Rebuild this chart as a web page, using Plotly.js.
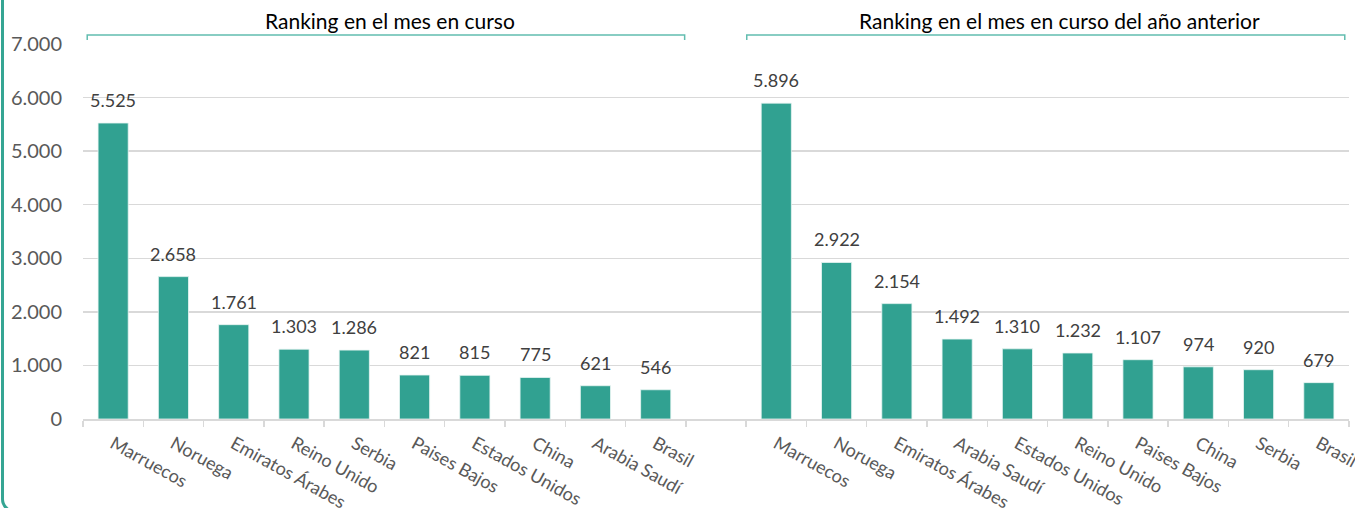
<!DOCTYPE html>
<html>
<head>
<meta charset="utf-8">
<script src="https://cdn.plot.ly/plotly-3.0.1.min.js"></script>
<style>
  html, body { margin: 0; padding: 0; background: #fff; overflow: hidden; }
  #frame {
    position: absolute; left: 1px; top: -20px; width: 1420px; height: 530px;
    border-left: 3px solid #35a593; border-bottom: 3px solid #35a593;
    border-bottom-left-radius: 14px; pointer-events: none; z-index: 2;
  }
  #plot { position: absolute; left: 0; top: 0; width: 1355px; height: 508px; }
</style>
</head>
<body>
<div id="plot"></div>
<div id="frame"></div>
<script>
// Ranking en el mes en curso
var paises_actual = ["Marruecos", "Noruega", "Emiratos Árabes...", "Reino Unido", "Serbia",
                     "Paises Bajos", "Estados Unidos", "China", "Arabia Saudí", "Brasil"];
var valores_actual = [5525, 2658, 1761, 1303, 1286, 821, 815, 775, 621, 546];

// Ranking en el mes en curso del año anterior
var paises_anterior = ["Marruecos", "Noruega", "Emiratos Árabes...", "Arabia Saudí", "Estados Unidos",
                       "Reino Unido", "Paises Bajos", "China", "Serbia", "Brasil"];
var valores_anterior = [5896, 2922, 2154, 1492, 1310, 1232, 1107, 974, 920, 679];

var titulo_actual = "Ranking en el mes en curso";
var titulo_anterior = "Ranking en el mes en curso del año anterior";

// duplicate names need to stay separate categories, so the second block gets a zero-width suffix
var x = paises_actual.concat([" "], paises_anterior.map(p => p + "\u200b"));
var y = valores_actual.concat([null], valores_anterior);

function miles(v) {
  return String(v).replace(/\B(?=(\d{3})+(?!\d))/g, ".");
}

var teal = '#31a191';
var bracket = '#62bdb0';

var trace = {
  x: x,
  y: y,
  type: 'bar',
  width: 0.5,
  marker: {color: teal, line: {color: '#e8f5f3', width: 0.8}},
  hoverinfo: 'x+y'
};

var annotations = [];
for (var i = 0; i < x.length; i++) {
  if (y[i] === null) continue;
  annotations.push({
    x: x[i], y: y[i], xref: 'x', yref: 'y',
    text: miles(y[i]), showarrow: false,
    yanchor: 'bottom', yshift: 10,
    font: {size: 18, color: '#404040'}
  });
}
var nA = paises_actual.length;
var nB = paises_anterior.length;
annotations.push({
  x: (nA - 1) / 2 + 0.1, y: 1.024, xref: 'x', yref: 'paper', text: titulo_actual,
  showarrow: false, yanchor: 'bottom', font: {size: 21, color: '#000000'}
});
annotations.push({
  x: nA + 1 + (nB - 1) / 2 + 0.2, y: 1.024, xref: 'x', yref: 'paper', text: titulo_anterior,
  showarrow: false, yanchor: 'bottom', font: {size: 21, color: '#000000'}
});

function corchete(a, b) {
  return {
    type: 'path', xref: 'x', yref: 'paper',
    path: 'M ' + a + ',1.011 L ' + a + ',1.024 L ' + b + ',1.024 L ' + b + ',1.011',
    line: {color: bracket, width: 1.5}
  };
}

var layout = {
  width: 1355,
  height: 508,
  margin: {l: 83, r: 6, t: 44, b: 89},
  paper_bgcolor: '#ffffff',
  plot_bgcolor: '#ffffff',
  separators: ',.',
  font: {family: 'Lato, "Open Sans", sans-serif', color: '#595959'},
  showlegend: false,
  bargap: 0.5,
  xaxis: {
    type: 'category',
    tickson: 'boundaries',
    ticks: 'outside',
    ticklen: 6,
    tickcolor: '#d9d9d9',
    tickwidth: 1.5,
    showline: true,
    linecolor: '#d9d9d9',
    linewidth: 1.5,
    showgrid: false,
    tickangle: 29,
    ticklabelstandoff: 6,
    tickfont: {size: 18, color: '#595959'},
    fixedrange: true
  },
  yaxis: {
    range: [0, 7000],
    dtick: 1000,
    tickformat: ',d',
    showgrid: true,
    gridcolor: '#d9d9d9',
    gridwidth: 1.5,
    zeroline: false,
    showline: false,
    ticklabelstandoff: 20,
    tickfont: {size: 20, color: '#595959'},
    fixedrange: true
  },
  shapes: [corchete(-0.43, nA - 0.52), corchete(nA + 0.51, nA + nB + 0.43)],
  annotations: annotations
};

Plotly.newPlot('plot', [trace], layout, {displayModeBar: false, staticPlot: true});
</script>
</body>
</html>
